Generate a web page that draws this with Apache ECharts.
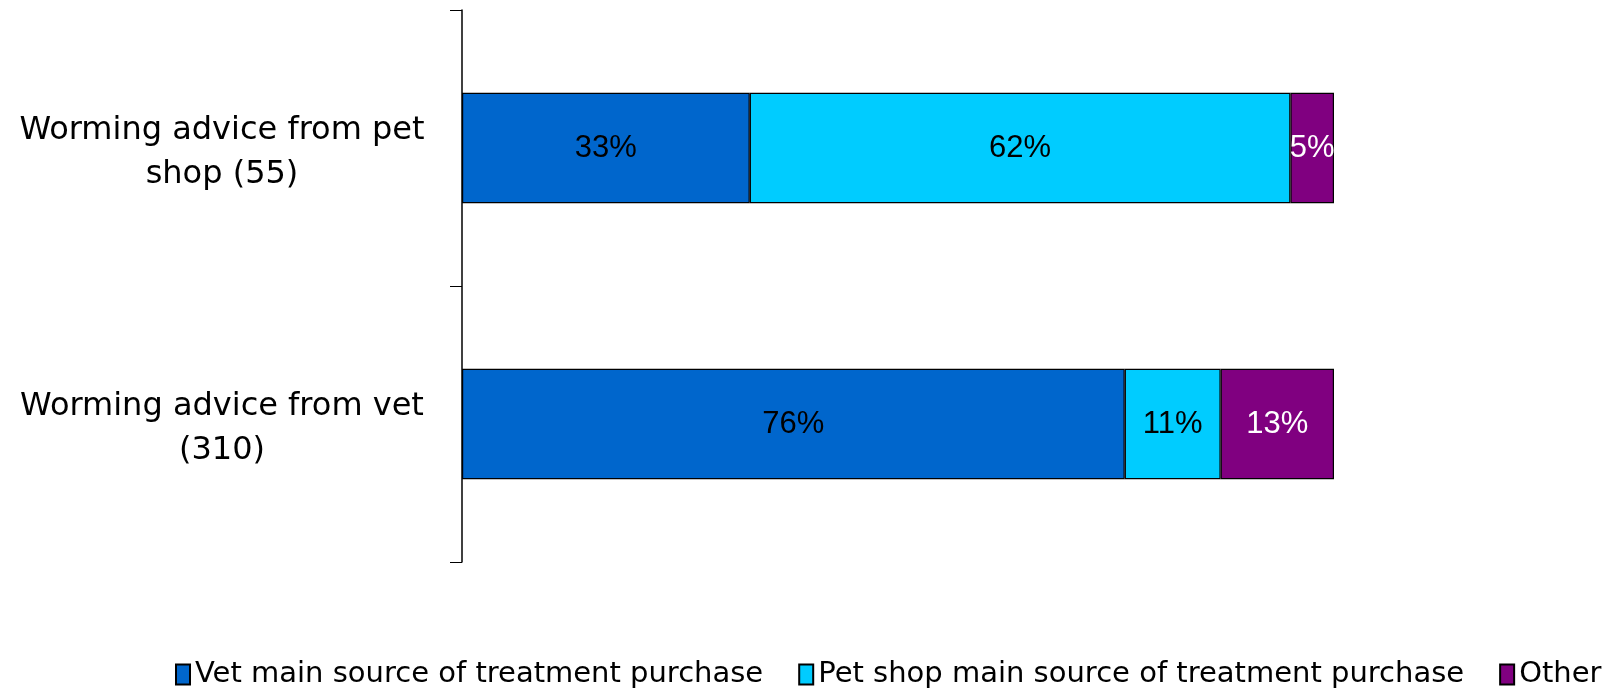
<!DOCTYPE html>
<html>
<head>
<meta charset="utf-8">
<script src="https://cdn.jsdelivr.net/npm/echarts@6/dist/echarts.min.js"></script>
<style>html,body{margin:0;padding:0;background:#fff;}#c{width:1610px;height:694px;}</style>
</head>
<body>
<div id="c"></div>
<script>
const categories = ["Worming advice from vet\n(310)", "Worming advice from pet\nshop (55)"];
const seriesNames = ["Vet main source of treatment purchase", "Pet shop main source of treatment purchase", "Other"];
const vetValues = [76, 33];
const petShopValues = [11, 62];
const otherValues = [13, 5];
const colors = ["#0066CC", "#00CCFF", "#800080"];
const labelColors = ["#000000", "#000000", "#ffffff"];

const dataSets = [vetValues, petShopValues, otherValues];
const chart = echarts.init(document.getElementById('c'));
chart.setOption({
  animation: false,
  backgroundColor: '#ffffff',
  grid: { left: 462, right: 276, top: 10, bottom: 132 },
  legend: {
    bottom: 0,
    left: 170,
    itemWidth: 14,
    itemHeight: 20,
    itemGap: 35,
    icon: 'rect',
    textStyle: { fontFamily: 'DejaVu Sans', fontSize: 29, color: '#000' },
    data: seriesNames
  },
  xAxis: { type: 'value', min: 0, max: 100, show: false },
  yAxis: {
    type: 'category',
    data: categories,
    axisLine: { show: true, lineStyle: { color: '#000', width: 1.5 } },
    axisTick: { show: true, length: 12, lineStyle: { color: '#000', width: 1 } },
    axisLabel: {
      fontFamily: 'DejaVu Sans', fontSize: 32, color: '#000', align: 'center', margin: 240, lineHeight: 44,
      formatter: v => '{s|}\n' + v.split('\n').map(l => '{t|' + l + '}').join('\n'),
      rich: {
        s: { lineHeight: 10, fontSize: 8 },
        t: { fontFamily: 'DejaVu Sans', fontSize: 32, lineHeight: 44, color: '#000', align: 'center' }
      }
    }
  },
  series: dataSets.map((d, i) => ({
    name: seriesNames[i],
    type: 'bar',
    stack: 'total',
    barWidth: '40%',
    data: d,
    itemStyle: { color: colors[i], borderColor: '#000', borderWidth: 1.2 },
    label: { show: true, position: 'inside', formatter: '{c}%', fontFamily: 'Liberation Sans', fontSize: 31, color: labelColors[i] }
  }))
});
</script>
</body>
</html>
